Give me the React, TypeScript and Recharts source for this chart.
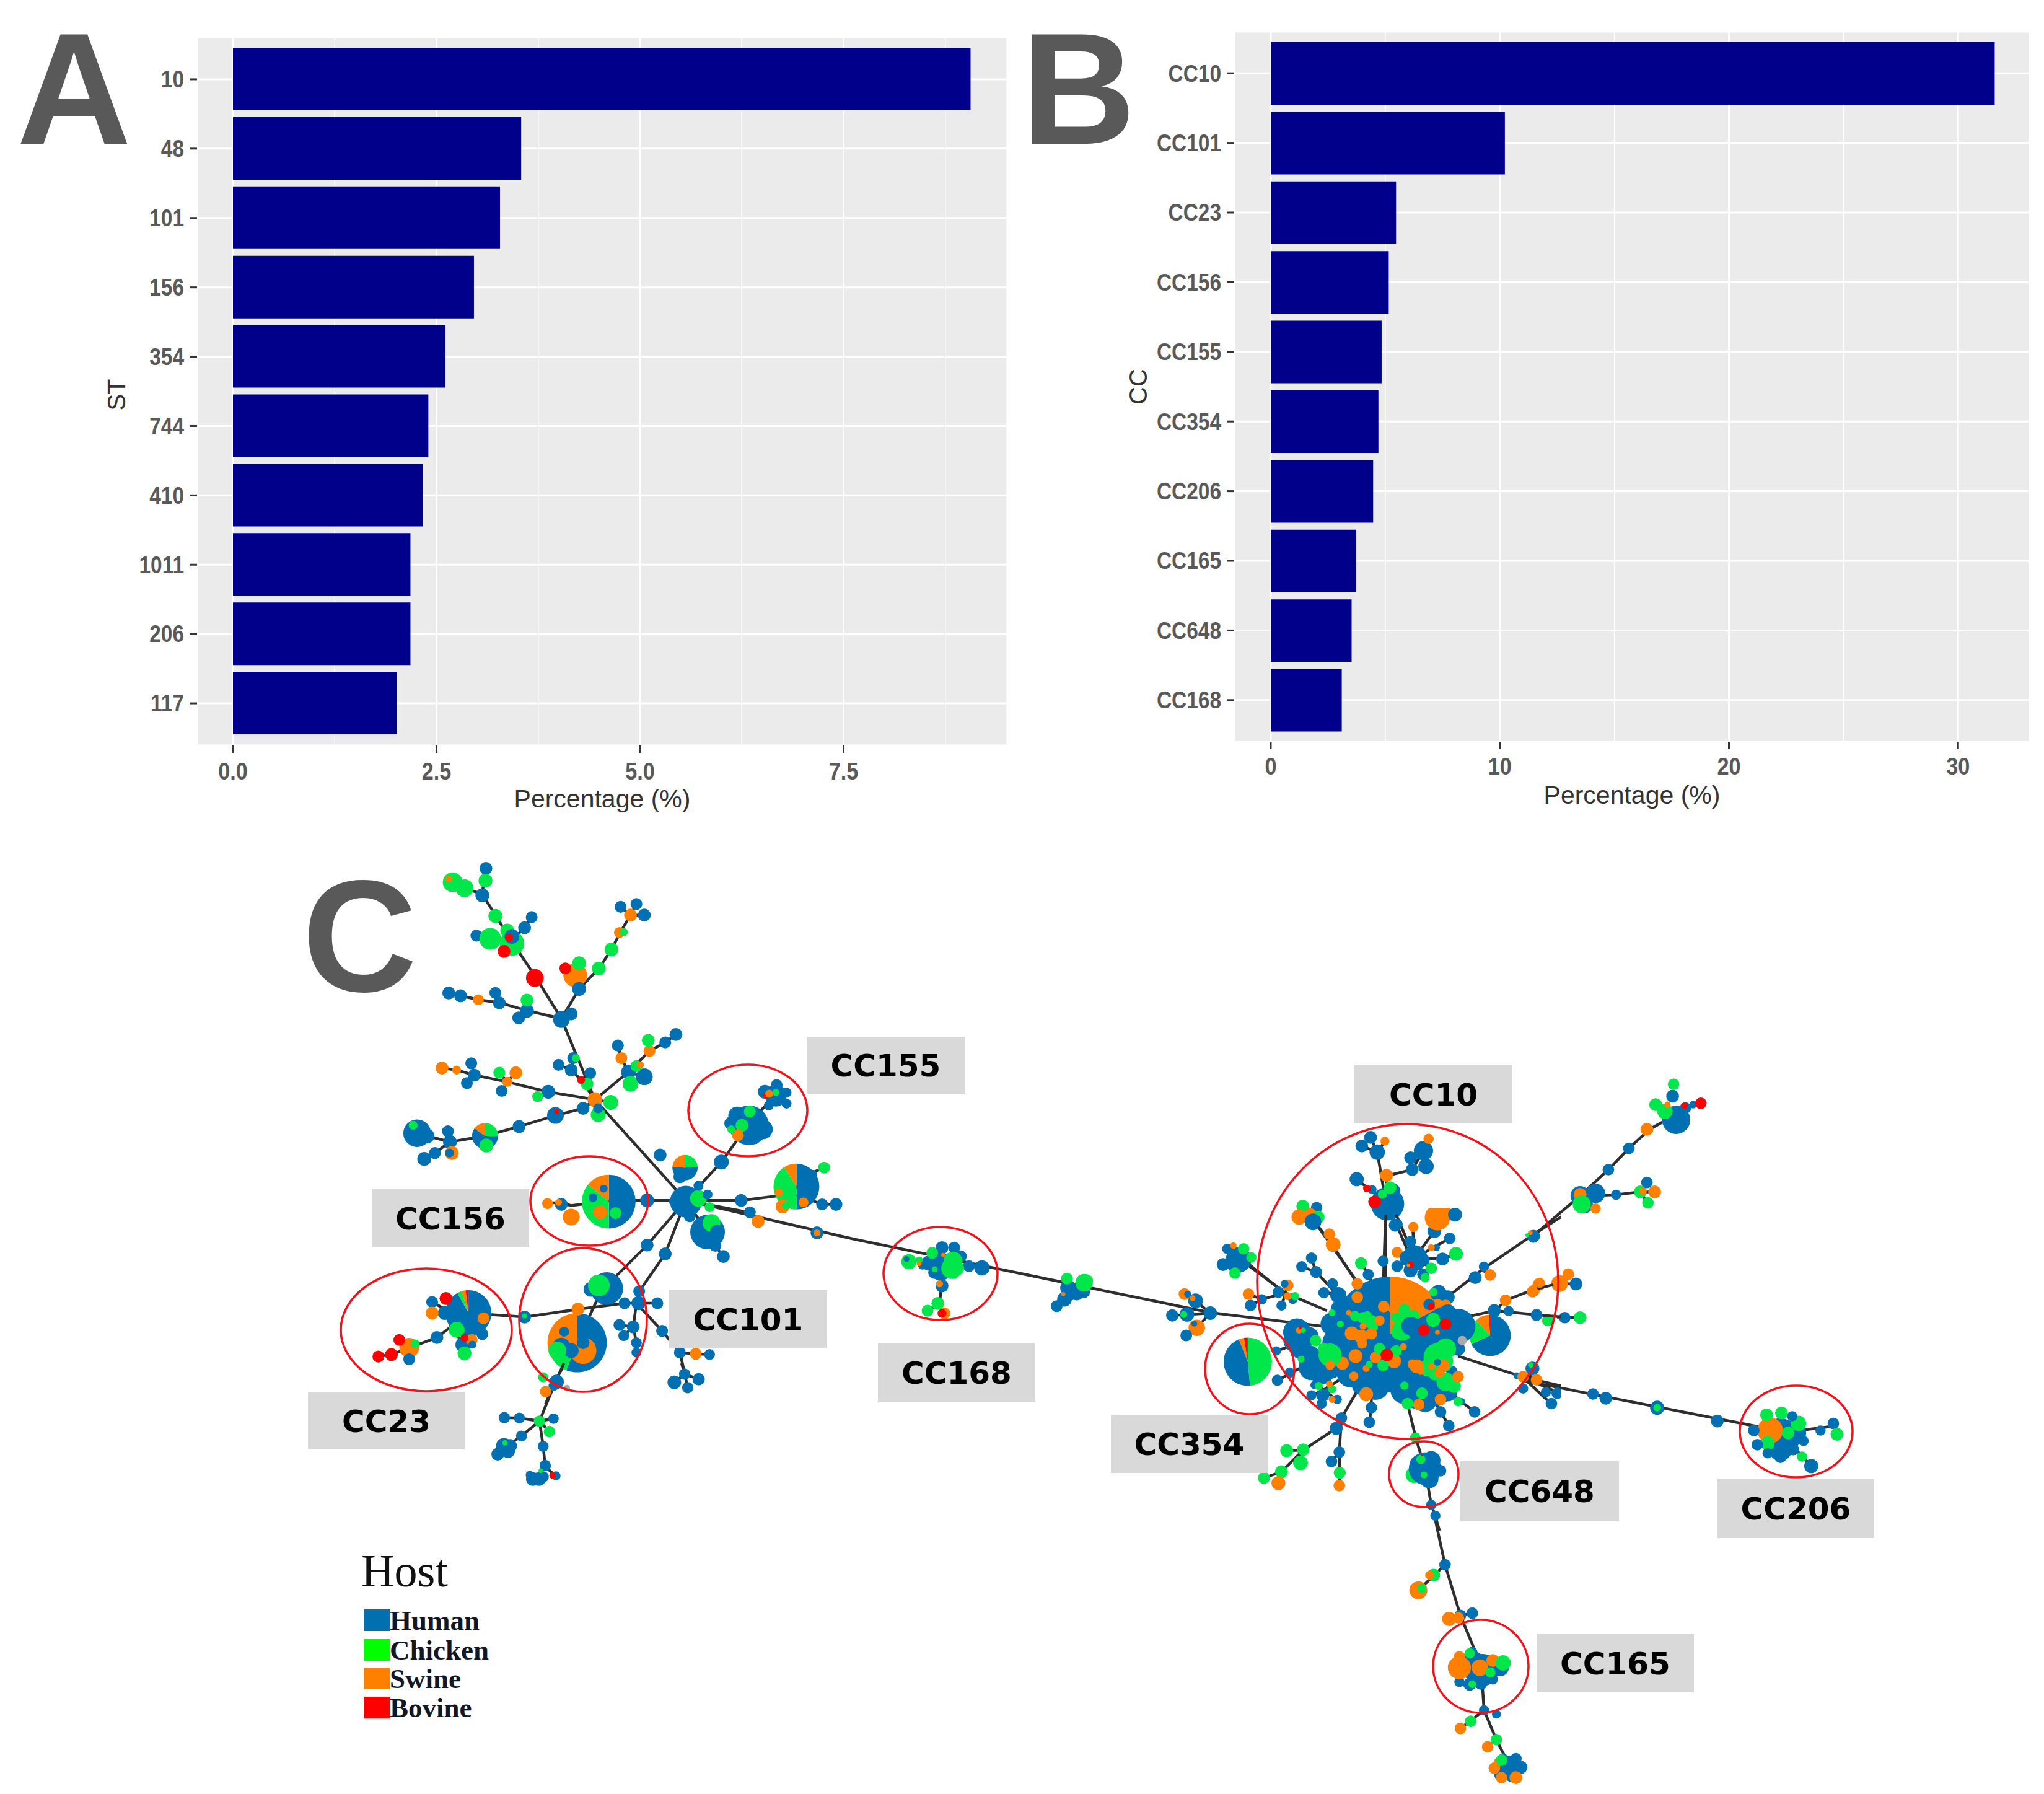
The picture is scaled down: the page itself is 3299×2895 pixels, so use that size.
import React from "react";
import { BarChart, Bar, XAxis, YAxis, CartesianGrid, ScatterChart, Scatter } from "recharts";

// ---------- Panel A / B data ----------
const stCategories = ["10", "48", "101", "156", "354", "744", "410", "1011", "206", "117"];
const stValues = [9.06, 3.54, 3.28, 2.96, 2.61, 2.4, 2.33, 2.18, 2.18, 2.01];
const ccCategories = ["CC10", "CC101", "CC23", "CC156", "CC155", "CC354", "CC206", "CC165", "CC648", "CC168"];
const ccValues = [31.6, 10.22, 5.47, 5.15, 4.84, 4.7, 4.47, 3.73, 3.53, 3.1];
const stTicks = [0, 2.5, 5, 7.5];
const stMinor = [1.25, 3.75, 6.25, 8.75];
const ccTicks = [0, 10, 20, 30];
const ccMinor = [5, 15, 25];

// ---------- Panel C data ----------
const H = "Human", C = "Chicken", S = "Swine", B = "Bovine", G = "Other";
const hostColors: any = { Human: "#0070B3", Chicken: "#00E64B", Swine: "#FF8000", Bovine: "#FF0000", Other: "#AAAAAA" };
const legendNames = [H, C, S, B];
const legendColors = ["#0070B0", "#00FF00", "#FF8000", "#FF0000"];
const legendTops = [2597, 2645, 2691, 2738];

const trunkEdges = [[[1107, 1937], [1380, 2000], [1953, 2118], [2133, 2140]]];

const clusterLabels: any[] = [
  ["CC155", 1302, 1673, 255, 92], ["CC10", 2186, 1719, 255, 94], ["CC156", 600, 1919, 254, 93],
  ["CC101", 1080, 2082, 255, 93], ["CC23", 497, 2246, 253, 93], ["CC168", 1417, 2168, 254, 94],
  ["CC354", 1793, 2283, 253, 94], ["CC648", 2357, 2358, 256, 96], ["CC206", 2772, 2386, 253, 96],
  ["CC165", 2480, 2637, 254, 94],
];
const clusterRings = [
  [1207, 1792, 96, 74], [951, 1938, 95, 72], [941, 2130, 103, 116], [688, 2146, 138, 99], [1518, 2055, 92, 75],
  [2272, 2068, 243, 254], [2017, 2209, 72, 73], [2298, 2379, 56, 53], [2899, 2310, 91, 74], [2390, 2689, 77, 75],
];
const panelLetters: any[] = [["A", 27, 232], ["B", 1648, 232], ["C", 488, 1600]];
const axisTitles: any[] = [["ST", 202, 637], ["CC", 1851, 624]];

// left crop
const leftEdges = [
  [[1030, 905], [800, 650], [715, 445], [650, 340], [590, 250], [515, 130], [522, 65]],
  [[715, 445], [760, 370], [810, 318], [842, 270], [865, 225], [890, 183], [865, 162]],
  [[890, 183], [905, 155]], [[890, 183], [925, 183]], [[760, 370], [750, 335], [725, 318]], [[750, 335], [760, 305]],
  [[715, 445], [630, 425], [560, 405], [505, 397], [460, 387], [430, 380]], [[630, 425], [628, 398]], [[630, 425], [607, 443]], [[715, 445], [740, 433]], [[560, 405], [548, 380]],
  [[515, 130], [470, 115], [440, 100], [430, 93]],
  [[590, 250], [530, 240], [500, 235]], [[590, 250], [570, 275]], [[590, 250], [580, 225]], [[590, 250], [620, 215], [640, 188]],
  [[800, 650], [885, 580], [938, 527], [978, 505], [1005, 485]], [[938, 527], [935, 500]], [[885, 580], [867, 545], [858, 513]], [[885, 580], [925, 592]], [[885, 580], [890, 610]], [[885, 580], [905, 560]],
  [[800, 650], [765, 600], [740, 575], [745, 545]], [[740, 575], [708, 562]], [[765, 600], [788, 583]],
  [[800, 650], [680, 630], [578, 605], [495, 588], [450, 575], [413, 570]], [[495, 588], [487, 558]], [[495, 588], [476, 608]], [[578, 605], [600, 582]], [[578, 605], [558, 582]], [[578, 605], [564, 628]], [[680, 630], [655, 642]],
  [[800, 650], [840, 657]], [[800, 650], [808, 688]],
  [[800, 650], [770, 672], [700, 690], [608, 718], [522, 742], [433, 757], [350, 735]], [[433, 757], [428, 730]], [[433, 757], [438, 785]], [[433, 757], [395, 785], [368, 800]],
  [[1030, 905], [840, 905], [740, 918], [710, 910], [680, 912]],
  [[1030, 905], [1120, 808], [1190, 710], [1255, 640]],
  [[1030, 905], [1170, 905], [1290, 890], [1350, 835], [1380, 822]], [[1310, 890], [1375, 915], [1410, 915]], [[1275, 890], [1275, 920]],
  [[1030, 905], [1085, 985], [1105, 1020], [1125, 1047]],
  [[1030, 905], [1190, 935], [1213, 958]],
  [[1030, 905], [978, 1040], [912, 1135], [905, 1165], [897, 1225], [905, 1265], [905, 1290]], [[897, 1225], [862, 1220]], [[897, 1225], [873, 1247]],
  [[1030, 905], [932, 1018], [850, 1100], [820, 1125], [755, 1265], [700, 1360], [675, 1420]],
  [[958, 1165], [875, 1165], [760, 1180], [622, 1200], [480, 1190]],
  [[905, 1165], [970, 1235], [1015, 1290], [1055, 1293], [1090, 1295]], [[1015, 1290], [1028, 1345]],
  [[480, 1190], [400, 1252], [330, 1278], [285, 1295], [250, 1300]], [[330, 1278], [305, 1258]], [[330, 1278], [330, 1307]], [[480, 1190], [388, 1190]], [[423, 1153], [480, 1190]], [[388, 1162], [420, 1180]], [[440, 1240], [475, 1265], [470, 1292]],
];
const leftPies: any[] = [
  [835, 908, 68, [[H, 0.5], [C, 0.36], [S, 0.14]]],
  [1310, 870, 58, [[H, 0.5], [C, 0.41], [S, 0.09]]],
  [755, 1265, 75, [[H, 0.56], [C, 0.1], [S, 0.34]]],
  [480, 1190, 58, [[H, 0.92], [C, 0.03], [S, 0.03], [B, 0.02]]],
  [522, 742, 33, [[C, 0.25], [H, 0.6], [S, 0.15]]],
  [1028, 822, 32, [[C, 0.24], [H, 0.52], [S, 0.24]]],
];
const leftNodes: any[] = [
  [524, 65, 13, H], [523, 96, 14, C], [515, 133, 14, H], [548, 185, 14, C], [440, 100, 20, C], [470, 115, 18, C], [430, 92, 7, S],
  [640, 188, 12, H], [622, 215, 13, H], [500, 235, 12, H], [535, 243, 22, C], [590, 255, 25, C], [578, 222, 14, C], [590, 237, 15, H], [583, 240, 8, B], [570, 275, 13, B], [648, 342, 18, B],
  [750, 335, 24, S], [725, 318, 12, B], [760, 305, 14, C], [760, 370, 14, H], [810, 318, 14, C], [842, 270, 14, C], [862, 227, 11, S], [873, 226, 8, C], [890, 183, 13, S], [865, 162, 12, H], [905, 155, 12, H], [925, 183, 13, H],
  [715, 447, 17, H], [740, 433, 13, H], [628, 425, 14, H], [628, 398, 13, C], [607, 443, 13, H], [558, 405, 13, H], [505, 397, 11, S], [460, 387, 13, H], [430, 380, 13, H], [548, 380, 12, H],
  [800, 650, 15, S], [840, 657, 15, C], [808, 688, 15, C], [808, 672, 10, H], [770, 672, 13, H], [700, 690, 17, H], [703, 680, 5, B], [608, 718, 13, H], [525, 766, 14, C], [433, 757, 14, H], [428, 730, 12, H], [438, 785, 14, S], [432, 785, 9, H], [395, 785, 12, H], [368, 800, 14, H], [350, 735, 28, H], [375, 742, 15, H], [340, 715, 9, C],
  [413, 570, 13, S], [450, 575, 9, S], [495, 588, 13, H], [487, 558, 12, H], [476, 608, 12, H], [578, 605, 10, S], [600, 582, 13, S], [558, 582, 12, C], [564, 628, 12, H], [682, 630, 14, H], [655, 642, 11, C],
  [745, 545, 12, H], [752, 545, 8, C], [740, 575, 13, H], [708, 562, 12, H], [788, 583, 12, H], [780, 610, 13, C], [765, 600, 8, B],
  [885, 580, 15, H], [858, 513, 12, H], [867, 545, 12, S], [890, 610, 16, C], [925, 592, 17, H], [905, 565, 12, C], [915, 562, 7, S], [938, 527, 12, S], [935, 500, 13, C], [978, 505, 12, H], [1005, 485, 13, H],
  [1258, 640, 22, H], [1230, 630, 14, H], [1260, 613, 12, H], [1285, 632, 10, H], [1285, 660, 10, H], [1240, 665, 10, H], [1232, 640, 6, B], [1241, 635, 8, S], [1258, 632, 7, C],
  [1190, 715, 40, H], [1160, 690, 18, H], [1145, 710, 14, H], [1225, 725, 20, H], [1180, 740, 14, H], [1205, 750, 10, H], [1172, 715, 13, C], [1192, 680, 12, C], [1162, 740, 12, S], [1145, 725, 8, C], [1120, 808, 15, H],
  [822, 875, 8, H], [813, 935, 14, S], [852, 937, 12, C], [795, 898, 9, H], [932, 905, 14, H], [715, 915, 13, H], [680, 913, 11, S], [708, 910, 7, S], [740, 947, 17, S],
  [1030, 908, 32, H], [1000, 908, 10, H], [1062, 900, 17, C], [1085, 890, 10, H], [1090, 922, 10, C], [1062, 868, 10, H], [1040, 945, 12, H],
  [965, 790, 13, H], [1015, 845, 13, H], [1085, 985, 35, H], [1095, 962, 18, C], [1060, 990, 14, H], [1110, 985, 15, H], [1105, 1020, 12, H], [1125, 1047, 13, H],
  [1380, 822, 12, C], [1350, 840, 10, H], [1275, 920, 14, S], [1283, 918, 8, C], [1265, 885, 8, S], [1328, 910, 10, S], [1375, 915, 12, H], [1410, 915, 13, H], [1170, 905, 13, H], [1192, 935, 12, H], [1213, 958, 13, S], [1362, 987, 13, H], [1362, 987, 7, S],
  [932, 1018, 13, H], [978, 1040, 13, H], [912, 1135, 12, H], [830, 1128, 33, H], [790, 1130, 15, H], [810, 1120, 22, C],
  [770, 1285, 27, S], [770, 1265, 13, H], [722, 1237, 10, H], [715, 1275, 18, H], [740, 1285, 15, H], [705, 1285, 18, C], [757, 1180, 13, S], [622, 1200, 13, H], [622, 1197, 5, C],
  [875, 1165, 12, H], [910, 1165, 14, H], [958, 1165, 12, H], [897, 1225, 13, H], [862, 1220, 12, H], [873, 1247, 11, H], [905, 1265, 11, H], [905, 1290, 10, H], [970, 1235, 12, H], [1015, 1290, 12, H], [1055, 1293, 12, S], [1090, 1295, 11, H],
  [518, 1203, 12, S], [450, 1232, 16, C], [515, 1243, 12, H], [420, 1190, 14, H], [423, 1153, 13, B], [388, 1162, 12, H], [388, 1190, 13, S], [400, 1252, 13, H],
  [467, 1270, 16, H], [488, 1258, 12, S], [470, 1253, 8, B], [470, 1292, 14, C], [490, 1270, 8, H],
  [330, 1278, 20, S], [345, 1268, 9, C], [305, 1258, 12, B], [330, 1307, 12, H], [285, 1295, 13, B], [252, 1300, 12, B],
];

// lower crop
const lowerEdges = [
  [[450, 0], [410, 90], [332, 280], [235, 265], [162, 263]], [[332, 280], [400, 268]], [[332, 280], [380, 330]], [[332, 280], [245, 352], [170, 405]],
  [[332, 280], [350, 400], [360, 500], [325, 545]], [[360, 500], [410, 545]], [[1020, 0], [1035, 52], [985, 92]], [[1035, 52], [1103, 77]], [[1035, 52], [1050, 118]],
];
const lowerNodes: any[] = [
  [465, 120, 14, G], [350, 68, 22, C], [415, 90, 32, H], [400, 110, 22, H], [362, 137, 25, S],
  [162, 263, 25, H], [235, 265, 24, H], [400, 268, 23, H], [245, 352, 24, H], [350, 402, 24, H], [160, 400, 35, H], [190, 400, 30, H], [130, 440, 28, H], [180, 425, 30, H],
  [380, 330, 25, C], [332, 280, 25, C], [165, 385, 12, C], [360, 495, 25, H], [285, 540, 18, H], [300, 560, 30, H], [330, 560, 30, H], [350, 550, 25, H], [412, 545, 20, H], [395, 543, 14, B], [338, 520, 10, C],
  [1035, 52, 25, H], [985, 92, 30, H], [1103, 77, 27, H], [1050, 118, 25, H],
];

// middle crop
const middleEdges = [[[355, 350], [345, 460], [296, 495]], [[345, 460], [358, 505]], [[850, 360], [890, 385]], [[1450, 507], [1295, 518]], [[1450, 507], [1390, 447], [1345, 415]], [[1450, 507], [1395, 578], [1352, 615]]];
const middleNodes: any[] = [
  [355, 190, 22, H], [405, 190, 20, H], [432, 232, 20, H], [345, 265, 38, H], [350, 300, 35, H], [300, 265, 25, H], [275, 275, 15, H], [325, 310, 22, H], [465, 280, 20, H], [518, 288, 26, H], [355, 375, 22, H],
  [400, 255, 32, C], [395, 290, 36, C], [415, 290, 25, C], [405, 320, 15, C], [315, 215, 20, C], [220, 258, 26, C], [338, 460, 22, C], [296, 495, 20, C], [325, 295, 10, C], [262, 250, 12, C],
  [360, 225, 7, S], [345, 365, 12, S], [365, 508, 20, S], [262, 268, 8, S], [355, 508, 15, B], [210, 245, 10, H],
  [870, 385, 27, H], [905, 410, 25, H], [935, 405, 20, H], [855, 440, 25, H], [823, 473, 20, H], [880, 410, 25, H], [865, 340, 20, C], [935, 360, 30, C], [945, 350, 22, C], [850, 415, 7, S],
  [1450, 507, 23, H], [1395, 578, 28, S], [1385, 558, 10, H], [1352, 615, 20, H], [1295, 518, 21, H], [1355, 513, 25, H], [1342, 513, 12, C], [1390, 447, 25, H], [1378, 435, 10, S], [1345, 415, 20, S], [1358, 415, 12, H],
];

// right crop
const rightEdges = [
  [[510, 208], [480, 195]], [[510, 208], [497, 177]], [[510, 208], [525, 185]], [[510, 208], [527, 315]], [[527, 315], [528, 258], [578, 245], [600, 205], [610, 180]], [[527, 315], [470, 265]],
  [[527, 315], [522, 480]], [[527, 315], [548, 362], [575, 430]], [[385, 350], [470, 480]],
  [[813, 385], [905, 300], [960, 245], [1000, 200], [1040, 160], [1090, 130]], [[920, 300], [975, 298], [1020, 292], [1050, 292]], [[1020, 292], [1035, 272]], [[1020, 292], [1037, 315]],
  [[255, 440], [335, 510]], [[865, 485], [897, 486]], [[860, 556], [905, 557]],
  [[795, 690], [1290, 795]],
  [[622, 978], [642, 1078], [672, 1185], [712, 1290], [718, 1385], [742, 1447], [762, 1490]], [[642, 1078], [590, 1132]], [[672, 1185], [650, 1192]], [[672, 1185], [695, 1180]], [[718, 1385], [672, 1423]], [[742, 1447], [725, 1462]],
  [[1295, 800], [1405, 785]], [[1295, 800], [1355, 870]],
];
const rightPies: any[] = [[258, 650, 47, [[C, 0.485], [H, 0.455], [S, 0.035], [B, 0.025]]]];
const rightNodes: any[] = [
  [510, 208, 12, H], [480, 195, 10, H], [497, 177, 10, H], [525, 185, 7, S], [600, 205, 15, H], [575, 220, 10, H], [605, 238, 12, H], [578, 245, 10, H], [470, 265, 11, H], [500, 287, 7, H], [530, 317, 26, H], [515, 315, 15, H], [540, 290, 12, H], [545, 362, 10, H],
  [528, 257, 10, S], [610, 180, 8, S], [505, 313, 10, B], [490, 285, 6, B], [535, 283, 10, C], [520, 297, 7, C],
  [365, 322, 10, C], [392, 325, 9, H], [358, 345, 12, S], [380, 340, 10, S], [395, 345, 10, C], [385, 355, 13, H],
  [905, 300, 15, H], [935, 295, 15, H], [915, 320, 12, H], [905, 297, 10, S], [908, 318, 14, C], [935, 327, 8, S], [960, 245, 9, H], [1000, 200, 9, H], [1035, 160, 10, S], [1092, 140, 22, H], [1070, 122, 12, C], [1085, 90, 10, H], [1087, 65, 9, C], [1110, 115, 9, H], [1125, 108, 6, H], [1108, 110, 5, B], [1140, 105, 9, B], [1052, 108, 10, C], [1075, 108, 5, S],
  [975, 298, 8, H], [1022, 292, 10, C], [1027, 290, 6, S], [1050, 292, 10, S], [1035, 272, 9, H], [1037, 315, 9, C],
  [240, 435, 20, H], [218, 412, 8, H], [210, 445, 10, H], [232, 445, 12, H], [233, 463, 9, C], [250, 412, 9, C], [265, 430, 8, C], [230, 405, 5, S],
  [820, 552, 9, H], [842, 563, 9, C], [875, 557, 9, H], [905, 557, 10, C], [815, 500, 9, S], [825, 487, 10, S], [865, 485, 13, S], [882, 465, 9, S], [897, 486, 10, H],
  [930, 718, 9, H], [955, 727, 10, H], [1055, 747, 11, H], [1055, 747, 6, C], [1172, 775, 10, H],
  [1295, 810, 30, H], [1320, 800, 20, H], [1295, 835, 18, H], [1275, 795, 20, S], [1268, 762, 10, C], [1297, 758, 10, C], [1330, 780, 12, C], [1270, 822, 11, C], [1337, 850, 8, C], [1243, 795, 9, H], [1250, 825, 9, H], [1270, 843, 8, H], [1295, 850, 10, H], [1320, 835, 9, H], [1340, 817, 8, H], [1318, 765, 8, H], [1373, 795, 8, H], [1398, 780, 9, H], [1405, 803, 10, C], [1355, 870, 11, H], [1310, 800, 10, C],
  [642, 1078, 9, H], [620, 1100, 10, C], [612, 1100, 7, S], [590, 1132, 14, S], [597, 1128, 7, C], [672, 1185, 9, H], [695, 1180, 9, H], [650, 1192, 11, S], [668, 1190, 9, S],
  [695, 1290, 22, H], [670, 1285, 10, H], [715, 1300, 25, H], [750, 1295, 13, H], [690, 1330, 10, H], [670, 1325, 8, H], [712, 1328, 10, H], [735, 1320, 8, H], [695, 1262, 8, H], [735, 1300, 12, H],
  [670, 1295, 18, S], [710, 1295, 13, S], [735, 1280, 10, S], [670, 1272, 9, S], [755, 1285, 12, C], [730, 1305, 8, C], [695, 1330, 6, C], [690, 1265, 8, C],
  [718, 1385, 8, H], [742, 1393, 7, H], [692, 1408, 9, C], [672, 1423, 9, S], [742, 1447, 9, C], [725, 1462, 9, S],
  [765, 1505, 18, H], [790, 1505, 10, H], [750, 1520, 10, H], [780, 1487, 9, H], [755, 1485, 7, H], [770, 1525, 8, H], [745, 1495, 7, S], [738, 1507, 9, S], [780, 1527, 10, S], [752, 1527, 9, S], [752, 1490, 9, C],
];

// core crop
const coreEdges = [
  [[710, 340], [710, 30]], [[760, 30], [850, 240]], [[850, 240], [840, 90]], [[850, 240], [945, 110]], [[850, 240], [1020, 145]], [[850, 240], [985, 245], [1050, 220]], [[850, 240], [765, 215]], [[850, 240], [765, 280]], [[850, 240], [830, 300]], [[850, 240], [930, 290]], [[850, 240], [895, 320]],
  [[385, 90], [450, 175], [570, 360]], [[460, 400], [372, 308], [350, 240]], [[372, 308], [303, 282]], [[410, 408], [490, 415]], [[590, 265], [625, 320], [640, 350]],
  [[50, 280], [225, 410], [425, 495]], [[225, 410], [110, 440], [45, 415]], [[225, 410], [235, 370]], [[225, 410], [205, 470]], [[225, 410], [270, 425]], [[110, 440], [55, 470]],
  [[1020, 420], [1185, 290], [1420, 130], [1560, 40]], [[1180, 300], [1215, 322]],
  [[1100, 525], [1240, 495], [1290, 445], [1420, 395], [1560, 360]], [[1240, 495], [1440, 515], [1560, 525]],
  [[1060, 715], [1370, 815], [1560, 860]], [[1370, 815], [1510, 945]], [[1370, 815], [1540, 890]], [[1400, 810], [1460, 830]],
  [[580, 870], [495, 1015], [470, 1065], [310, 1170], [205, 1275], [120, 1305]], [[205, 1275], [190, 1330]], [[310, 1170], [230, 1173]], [[300, 1180], [295, 1230]],
  [[495, 1015], [485, 1180], [487, 1280], [485, 1340]], [[485, 1180], [447, 1225]],
  [[640, 890], [640, 965], [630, 1035]], [[950, 940], [975, 985], [1015, 1050]], [[1040, 905], [1075, 935], [1140, 985]],
  [[500, 820], [410, 880], [350, 905]], [[410, 880], [400, 940]], [[410, 880], [385, 860]], [[410, 880], [440, 855]], [[410, 880], [470, 925]],
  [[240, 670], [180, 690]], [[300, 770], [190, 830]],
  [[815, 945], [855, 1110], [900, 1260], [930, 1435], [950, 1490], [970, 1560]],
];
const corePies: any[] = [
  [730, 610, 280, [[S, 0.17], [H, 0.83]]],
  [1215, 615, 100, [[H, 0.68], [C, 0.2], [S, 0.11], [B, 0.01]]],
];
const coreNodes: any[] = [
  [450, 560, 50, H], [470, 650, 60, H], [500, 490, 50, H], [540, 800, 60, H], [460, 740, 30, H], [660, 860, 60, H], [600, 850, 50, H],
  [1060, 570, 75, H], [1000, 600, 70, H], [1060, 680, 30, H], [950, 880, 70, H], [860, 880, 80, H], [800, 880, 60, H], [1010, 890, 40, H], [900, 930, 50, H], [920, 945, 25, H], [1030, 790, 25, H], [1010, 430, 30, H], [965, 410, 35, H], [480, 420, 35, H],
  [800, 700, 70, H], [900, 650, 70, H], [750, 800, 50, H],
  [280, 600, 60, H], [340, 620, 40, H], [270, 640, 50, H], [300, 680, 45, H], [340, 720, 50, H], [350, 770, 55, H], [400, 790, 55, H], [450, 790, 30, H], [290, 590, 14, S], [310, 590, 12, C], [295, 578, 7, B],
  [1000, 470, 25, S], [960, 460, 20, S],
  [960, 720, 60, C], [1000, 680, 45, C], [920, 770, 40, C], [950, 800, 30, C], [1000, 840, 40, C], [1040, 860, 30, C], [980, 740, 50, C], [905, 790, 20, C],
  [990, 760, 25, S], [970, 795, 22, S], [930, 765, 15, S], [960, 745, 15, H], [1060, 815, 25, S], [885, 895, 25, C], [800, 858, 18, C], [815, 945, 25, C], [870, 950, 25, S], [975, 925, 25, S], [920, 945, 22, H], [615, 900, 30, S], [555, 812, 20, S],
  [560, 520, 22, C], [600, 530, 25, C], [640, 550, 30, C], [490, 560, 15, C], [620, 520, 20, C], [650, 575, 20, C], [450, 505, 15, C],
  [680, 543, 22, S], [530, 505, 12, S], [545, 605, 30, S], [600, 570, 15, S], [640, 607, 25, S], [590, 620, 30, S], [595, 655, 22, S], [700, 475, 25, S], [740, 490, 15, S], [572, 430, 25, S], [572, 365, 25, S],
  [800, 490, 25, C], [760, 530, 22, C], [845, 520, 25, C], [810, 520, 30, C], [745, 565, 15, S], [790, 590, 45, C], [770, 600, 30, C], [830, 570, 40, H], [845, 600, 25, H], [860, 555, 20, H], [893, 590, 25, B],
  [940, 540, 30, C], [1010, 510, 40, H], [1000, 560, 25, B], [920, 465, 25, H], [930, 475, 15, B], [940, 405, 18, C], [960, 600, 10, S],
  [563, 715, 30, S], [660, 722, 25, S], [750, 740, 30, S], [615, 775, 15, S], [795, 670, 15, S], [500, 750, 28, S],
  [860, 765, 30, S], [840, 755, 22, S], [880, 790, 15, S],
  [680, 680, 25, C], [760, 690, 25, C], [697, 760, 25, C], [630, 755, 15, C], [715, 710, 27, B],
  [440, 710, 50, C], [410, 680, 25, C], [450, 740, 25, C], [440, 760, 20, S], [370, 640, 25, C], [300, 730, 15, C],
  [1080, 640, 20, G],
  [437, 125, 25, S], [455, 175, 32, S], [350, 240, 24, H], [303, 282, 24, H], [372, 308, 26, H], [452, 365, 24, H], [410, 408, 24, H], [625, 320, 24, H], [697, 255, 24, H], [765, 77, 24, H], [590, 265, 26, C],
  [843, 90, 22, S], [830, 160, 24, H], [945, 110, 30, H], [1020, 145, 25, H], [985, 245, 28, H], [1050, 220, 30, C], [955, 190, 15, H], [930, 190, 15, S], [765, 213, 24, S],
  [850, 240, 55, H], [810, 240, 30, H], [895, 250, 25, H], [765, 280, 25, H], [830, 300, 30, H], [890, 320, 25, H], [930, 290, 25, C], [900, 335, 20, C], [830, 272, 14, B], [820, 275, 8, S],
  [960, 45, 55, S], [1010, 20, 20, S], [1045, 30, 30, H],
  [190, 405, 25, H], [205, 470, 22, H], [110, 440, 22, H], [55, 470, 25, H], [260, 440, 20, H], [45, 415, 25, S], [235, 372, 25, S], [220, 365, 17, H], [235, 425, 17, S], [270, 425, 18, C],
  [1425, 135, 28, H], [1410, 118, 10, S], [1395, 130, 8, C], [1185, 282, 22, H], [1143, 335, 28, H], [1215, 322, 25, S],
  [1235, 495, 28, H], [1305, 497, 22, H], [1290, 445, 25, S], [1420, 403, 25, S], [1455, 360, 22, S], [1545, 358, 25, S], [1440, 515, 25, H], [1490, 545, 15, C],
  [1420, 775, 30, H], [1412, 758, 12, C], [1345, 810, 15, H], [1375, 815, 25, S], [1440, 830, 25, S], [1375, 872, 22, H], [1485, 890, 22, H], [1540, 895, 25, H], [1512, 945, 25, H],
  [230, 1173, 28, C], [310, 1168, 27, C], [297, 1232, 32, C], [205, 1275, 28, C], [120, 1305, 26, C], [190, 1330, 30, S], [470, 1065, 28, H], [495, 1015, 25, H], [485, 1180, 25, H], [447, 1225, 25, H], [487, 1280, 26, C], [485, 1342, 25, S],
  [640, 965, 25, H], [630, 1035, 25, H], [975, 985, 25, H], [1015, 1052, 25, H], [1078, 935, 15, H], [1060, 935, 20, C], [1140, 985, 25, H],
  [405, 905, 28, H], [400, 945, 22, H], [350, 905, 22, H], [365, 855, 18, H], [475, 925, 20, H], [430, 880, 12, H], [385, 860, 18, C], [450, 875, 18, C], [437, 850, 15, S], [450, 925, 15, S],
  [180, 690, 20, H], [185, 832, 24, H], [245, 795, 22, H], [853, 1110, 23, C],
  [845, 1290, 35, C], [900, 1260, 70, H], [870, 1240, 40, H], [920, 1310, 40, H], [975, 1270, 25, H], [930, 1220, 40, H], [880, 1215, 20, C], [895, 1290, 15, C], [885, 1195, 5, B],
  [930, 1435, 22, H], [950, 1488, 22, H],
];

// ---------- helpers ----------
const EMPTY = () => <g />;
const EDGE = { stroke: "#2E2E2E", strokeWidth: 4.5 };
const asPoints = (list: number[][]) => list.map(([x, y]) => ({ x, y }));

function pieShape(k: number) {
  return (p: any) => {
    const { cx, cy, payload } = p;
    const r = payload.r * k;
    let a = -Math.PI / 2;
    return (
      <g>
        {payload.parts.map(([host, f]: any, i: number) => {
          const b = a + f * 2 * Math.PI;
          const d = `M${cx},${cy}L${cx + r * Math.cos(a)},${cy + r * Math.sin(a)}A${r},${r} 0 ${f > 0.5 ? 1 : 0} 1 ${cx + r * Math.cos(b)},${cy + r * Math.sin(b)}Z`;
          a = b;
          return <path key={i} d={d} fill={hostColors[host]} />;
        })}
      </g>
    );
  };
}
function nodeShape(k: number) {
  return (p: any) => <circle cx={p.cx} cy={p.cy} r={p.payload.r * k} fill={hostColors[p.payload.host]} />;
}

function Net({ left, top, width, height, domX, domY, edges, pies = [], nodes, grow = 1 }: any) {
  const k = width / domX;
  return (
    <div style={{ position: "absolute", left, top }}>
      <ScatterChart width={width} height={height} margin={{ top: 0, right: 0, bottom: 0, left: 0 }}>
        <XAxis type="number" dataKey="x" domain={[0, domX]} hide allowDataOverflow />
        <YAxis type="number" dataKey="y" domain={[0, domY]} reversed hide allowDataOverflow />
        {edges.map((e: number[][], i: number) => (
          <Scatter key={"e" + i} data={asPoints(e)} line={EDGE} shape={EMPTY} isAnimationActive={false} />
        ))}
        {pies.length > 0 && (
          <Scatter data={pies.map(([x, y, r, parts]: any) => ({ x, y, r, parts }))} shape={pieShape(k)} isAnimationActive={false} />
        )}
        {nodes.length > 0 && (
          <Scatter data={nodes.map(([x, y, r, host]: any) => ({ x, y, r, host }))} shape={nodeShape(k * grow)} isAnimationActive={false} />
        )}
      </ScatterChart>
    </div>
  );
}

function Overlay() {
  const legendX = 588;
  return (
    <div style={{ position: "absolute", left: 0, top: 0 }}>
      <ScatterChart width={3299} height={2895} margin={{ top: 0, right: 0, bottom: 0, left: 0 }}>
        <XAxis type="number" dataKey="x" domain={[0, 3299]} hide allowDataOverflow />
        <YAxis type="number" dataKey="y" domain={[0, 2895]} reversed hide allowDataOverflow />
        <Scatter
          data={clusterLabels.map(([name, x, y, w, h]) => ({ name, x, y, w, h }))}
          isAnimationActive={false}
          shape={(p: any) => (
            <g>
              <rect x={p.cx} y={p.cy} width={p.payload.w} height={p.payload.h} fill="#D9D9D9" />
              <text x={p.cx + p.payload.w / 2} y={p.cy + p.payload.h / 2 + 18} textAnchor="middle" fontFamily="DejaVu Sans" fontWeight="700" fontSize={50} fill="#000">
                {p.payload.name}
              </text>
            </g>
          )}
        />
        <Scatter
          data={clusterRings.map(([x, y, rx, ry]) => ({ x, y, rx, ry }))}
          isAnimationActive={false}
          shape={(p: any) => <ellipse cx={p.cx} cy={p.cy} rx={p.payload.rx} ry={p.payload.ry} fill="none" stroke="#F5101A" strokeWidth={3.5} />}
        />
        <Scatter
          data={legendNames.map((name, i) => ({ name, color: legendColors[i], x: legendX, y: legendTops[i] }))}
          isAnimationActive={false}
          shape={(p: any) => (
            <g>
              <rect x={p.cx} y={p.cy} width={42} height={35} fill={p.payload.color} />
              <text x={p.cx + 41} y={p.cy + 33} fontFamily="Liberation Serif" fontWeight="700" fontSize={45} fill="#101828">
                {p.payload.name}
              </text>
            </g>
          )}
        />
        <Scatter
          data={[{ x: 583, y: 2560 }]}
          isAnimationActive={false}
          shape={(p: any) => (
            <text x={p.cx} y={p.cy} fontFamily="Liberation Serif" fontSize={74} fill="#111">
              Host
            </text>
          )}
        />
        <Scatter
          data={axisTitles.map(([name, x, y]) => ({ name, x, y }))}
          isAnimationActive={false}
          shape={(p: any) => (
            <text x={p.cx} y={p.cy} transform={`rotate(-90 ${p.cx} ${p.cy})`} textAnchor="middle" fontFamily="Liberation Sans" fontSize={40} fill="#333">
              {p.payload.name}
            </text>
          )}
        />
        <Scatter
          data={panelLetters.map(([name, x, y]) => ({ name, x, y }))}
          isAnimationActive={false}
          shape={(p: any) => (
            <text x={p.cx} y={p.cy} fontFamily="Liberation Sans" fontWeight="700" fontSize={256} fill="#595959">
              {p.payload.name}
            </text>
          )}
        />
      </ScatterChart>
    </div>
  );
}

const AXIS_FONT = '"Liberation Sans", sans-serif';
const tickText = { fill: "#595959", fontSize: 38, fontWeight: 700, fontFamily: AXIS_FONT };

function Ranking({ left, width, height, margin, pad, barSize, cats, vals, domain, ticks, minor, fmt, xGap }: any) {
  const data = cats.map((name: string, i: number) => ({ name, value: vals[i] }));
  const xTick = (p: any) => (
    <g transform={`translate(${p.x},${p.y})`}>
      <text {...tickText} textAnchor="middle" dy="0.75em" transform="scale(0.9,1)">{fmt(p.payload.value)}</text>
    </g>
  );
  const yTick = (p: any) => (
    <g transform={`translate(${p.x},${p.y})`}>
      <text {...tickText} textAnchor="end" dy="0.35em" transform="scale(0.88,1)">{p.payload.value}</text>
    </g>
  );
  return (
    <div style={{ position: "absolute", left, top: 0 }}>
      <BarChart width={width} height={height} data={data} layout="vertical" margin={margin} barSize={barSize}>
        <CartesianGrid fill="#EBEBEB" stroke="#FFFFFF" strokeWidth={3} />
        <CartesianGrid
          horizontal={false}
          stroke="#FFFFFF"
          strokeWidth={1.5}
          verticalCoordinatesGenerator={({ offset }: any) =>
            minor.map((v: number) => offset.left + ((v - domain[0]) / (domain[1] - domain[0])) * offset.width)
          }
        />
        <XAxis
          type="number"
          domain={domain}
          ticks={ticks}
          allowDataOverflow
          height={120}
          axisLine={false}
          tickSize={12}
          tickMargin={xGap}
          tickLine={{ stroke: "#333333", strokeWidth: 3 }}
          tick={xTick}
          label={{ value: "Percentage (%)", position: "insideBottom", offset: 20, fill: "#333", fontSize: 41, fontFamily: AXIS_FONT }}
        />
        <YAxis
          type="category"
          dataKey="name"
          width={150}
          padding={{ top: pad, bottom: pad }}
          axisLine={false}
          tickSize={12}
          tickMargin={9}
          tickLine={{ stroke: "#333333", strokeWidth: 3 }}
          tick={yTick}
        />
        <Bar dataKey="value" fill="#00008B" isAnimationActive={false} />
      </BarChart>
    </div>
  );
}

export default function App() {
  return (
    <div style={{ position: "absolute", left: 0, top: 0, width: 3299, height: 2895, background: "#fff", overflow: "hidden" }}>
      <Ranking
        left={0} width={1650} height={1340}
        margin={{ top: 60, right: 24, bottom: 17, left: 168 }}
        pad={12} barSize={101} cats={stCategories} vals={stValues}
        domain={[-0.4414, 9.513]} ticks={stTicks} minor={stMinor}
        fmt={(v: number) => v.toFixed(1)} xGap={14}
      />
      <Ranking
        left={1650} width={1649} height={1340}
        margin={{ top: 51, right: 23, bottom: 23, left: 192 }}
        pad={11} barSize={101} cats={ccCategories} vals={ccValues}
        domain={[-1.595, 33.13]} ticks={ccTicks} minor={ccMinor}
        fmt={(v: number) => String(v)} xGap={12}
      />
      <Net left={0} top={0} width={3299} height={2895} domX={3299} domY={2895} edges={trunkEdges} nodes={[]} />
      <Net left={450} top={1360} width={1000} height={1000} domX={1568} domY={1568} edges={leftEdges} pies={leftPies} nodes={leftNodes} grow={1.25} />
      <Net left={760} top={2200} width={400} height={300} domX={1200} domY={900} edges={lowerEdges} nodes={lowerNodes} grow={1.1} />
      <Net left={1380} top={1950} width={620} height={400} domX={1568} domY={1200} edges={middleEdges} nodes={middleNodes} grow={1.2} />
      <Net left={1800} top={1700} width={1300} height={1195} domX={1568} domY={1561.4} edges={rightEdges} pies={rightPies} nodes={rightNodes} grow={1.25} />
      <Net left={2000} top={1950} width={520} height={520} domX={1560} domY={1560} edges={coreEdges} pies={corePies} nodes={coreNodes} grow={1.12} />
      <Overlay />
    </div>
  );
}
